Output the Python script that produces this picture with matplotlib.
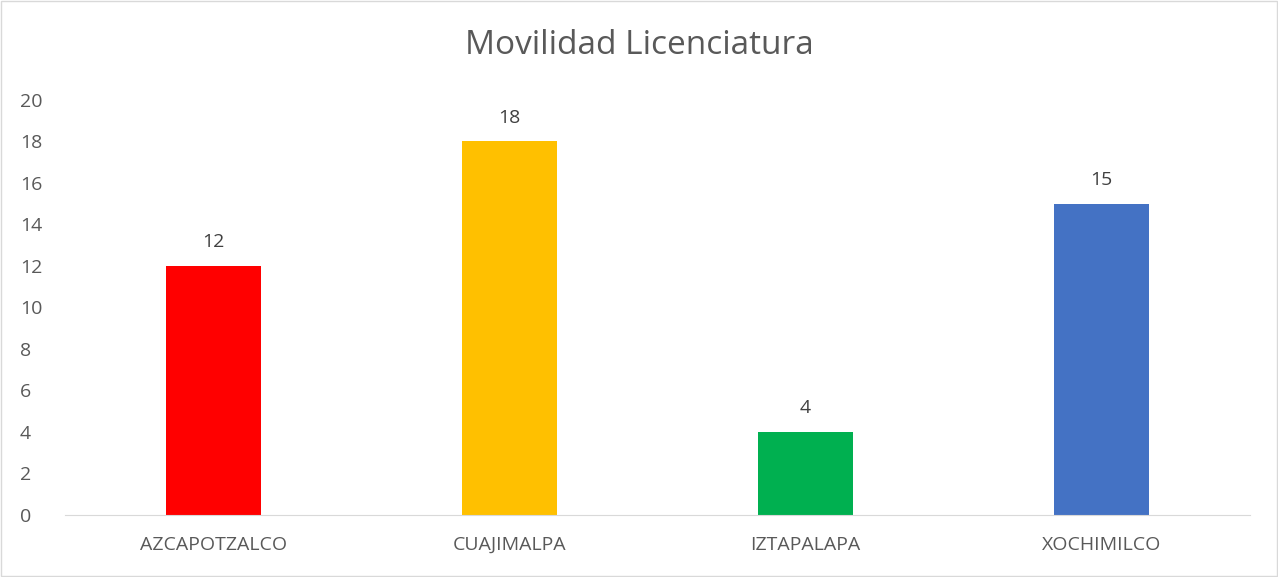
import matplotlib
matplotlib.use('Agg')
import matplotlib.pyplot as plt
from matplotlib.patches import Rectangle

# data
campus = ['AZCAPOTZALCO', 'CUAJIMALPA', 'IZTAPALAPA', 'XOCHIMILCO']
alumnos = [12, 18, 4, 15]
colores = ['#FF0000', '#FFC000', '#00B050', '#4472C4']

plt.rcParams['font.family'] = ['Open Sans', 'DejaVu Sans']

fig = plt.figure(figsize=(12.78, 5.77), dpi=100)
ax = fig.add_axes([0.0509, 0.1075, 0.927, 0.7195])

x = range(len(campus))
bars = ax.bar(x, alumnos, width=0.32, color=colores)
for b, v in zip(bars, alumnos):
    ax.text(b.get_x() + b.get_width()/2, v + 0.7, str(v), ha='center', va='bottom',
            fontsize=14, color='#404040')

ax.set_xlim(-0.5, 3.5)
ax.set_ylim(0, 20)
ax.set_yticks(range(0, 21, 2))
ax.set_xticks(list(x))
ax.set_xticklabels(campus)
ax.tick_params(axis='both', length=0, labelsize=14, labelcolor='#595959')
ax.tick_params(axis='x', pad=15)
ax.tick_params(axis='y', pad=32.5)
for lbl in ax.get_yticklabels():
    lbl.set_horizontalalignment('left')
for s in ['top', 'right', 'left']:
    ax.spines[s].set_visible(False)
ax.spines['bottom'].set_color('#D9D9D9')

fig.text(0.5, 0.922, 'Movilidad Licenciatura', ha='center', va='center',
         fontsize=24, color='#595959')

fig.patches.append(Rectangle((0.001, 0.002), 0.998, 0.996, transform=fig.transFigure,
                             fill=False, edgecolor='#D9D9D9', linewidth=1))

fig.savefig('out.png', dpi=100)
